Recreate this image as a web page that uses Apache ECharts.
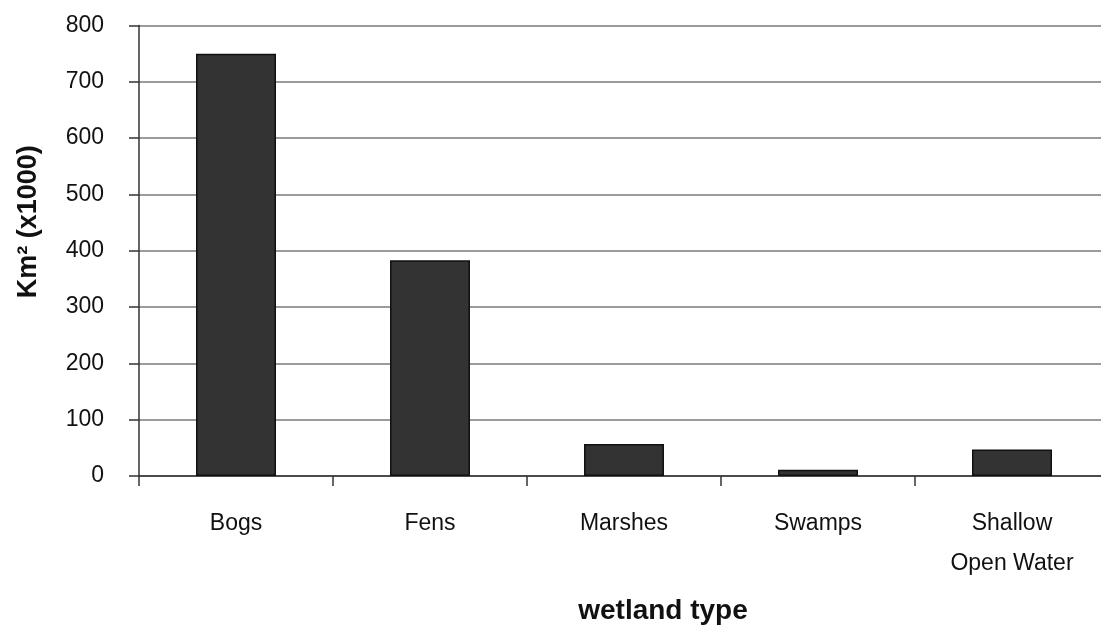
<!DOCTYPE html>
<html><head><meta charset="utf-8">
<script src="https://cdn.jsdelivr.net/npm/echarts@6/dist/echarts.min.js"></script>
<style>html,body{margin:0;padding:0;background:#fff;overflow:hidden}#c{width:1120px;height:630px}</style>
</head><body><div id="c"></div>
<script>
const categories = ['Bogs', 'Fens', 'Marshes', 'Swamps', 'Shallow\nOpen Water'];
const areaValues = [750, 383, 57, 11, 47];
const yTicks = [0, 100, 200, 300, 400, 500, 600, 700, 800];

const chart = echarts.init(document.getElementById('c'));
chart.setOption({
  animation: false,
  backgroundColor: '#fff',
  grid: { left: 139, top: 25.5, width: 970, height: 452.5, containLabel: false },
  xAxis: {
    type: 'category',
    data: categories,
    name: 'wetland type',
    nameLocation: 'middle',
    nameGap: 121,
    nameTextStyle: { fontFamily: 'Liberation Sans', fontSize: 28, fontWeight: 'bold', color: '#111', padding: [0, 0, 0, 78] },
    axisLine: { lineStyle: { color: '#333', width: 1.5 } },
    axisTick: { show: true, alignWithLabel: false, length: 10, lineStyle: { color: '#333', width: 1.5 } },
    axisLabel: { fontFamily: 'Liberation Sans', fontSize: 23, color: '#111', margin: 28, lineHeight: 40 },
    splitLine: { show: false }
  },
  yAxis: {
    type: 'value',
    min: yTicks[0],
    max: yTicks[yTicks.length - 1],
    interval: 100,
    name: 'Km² (x1000)',
    nameLocation: 'middle',
    nameGap: 97,
    nameTextStyle: { fontFamily: 'Liberation Sans', fontSize: 27, fontWeight: 'bold', color: '#111', padding: [0, 0, 0, 58] },
    axisLine: { show: true, lineStyle: { color: '#333', width: 1.5 } },
    axisTick: { show: true, length: 10, lineStyle: { color: '#333', width: 1.5 } },
    axisLabel: { fontFamily: 'Liberation Sans', fontSize: 23, color: '#111', margin: 35 },
    splitLine: { show: true, lineStyle: { color: '#7a7a7a', width: 1.5 } }
  },
  series: [{
    type: 'bar',
    data: areaValues,
    barWidth: 80,
    itemStyle: { color: '#333333', borderColor: '#111', borderWidth: 1.5 }
  }]
});
</script></body></html>
